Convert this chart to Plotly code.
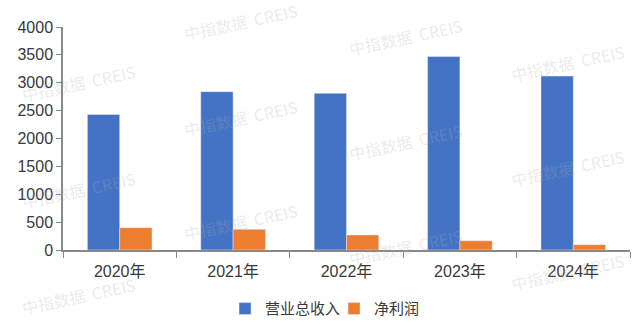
import plotly.graph_objects as go

years = ["2020年", "2021年", "2022年", "2023年", "2024年"]
revenue = [2430, 2840, 2810, 3470, 3120]
net_profit = [400, 370, 270, 165, 95]
y_ticks = [0, 500, 1000, 1500, 2000, 2500, 3000, 3500, 4000]

FONT = "Liberation Sans, Arial, Noto Sans CJK SC"

fig = go.Figure()
fig.add_bar(x=years, y=revenue, name="营业总收入", marker_color="#4472C4")
fig.add_bar(x=years, y=net_profit, name="净利润", marker_color="#ED7D31")

# plot area in pixels
L, R, T, B = 63, 630, 27, 250
W, H = 640, 324

def px(x, y):
    return (x - L) / (R - L), (B - y) / (B - T)

wm_pos = [(240, 22), (405, 37), (567, 63),
          (78, 83), (240, 118), (405, 142), (567, 168),
          (78, 190), (240, 222), (405, 247), (567, 272),
          (78, 296)]
anns = []
for (x, y) in wm_pos:
    ax, ay = px(x, y)
    anns.append(dict(x=ax, y=ay, xref="paper", yref="paper", text="中指数据  CREIS",
                     xanchor="center", yanchor="middle",
                     showarrow=False, textangle=-12,
                     font=dict(family="Noto Sans CJK SC", size=16, color="rgba(175,175,175,0.26)")))

fig.update_layout(
    width=W, height=H,
    margin=dict(l=L, r=W - R, t=T, b=H - B, autoexpand=False),
    paper_bgcolor="white", plot_bgcolor="white",
    barmode="group", bargap=0.43, bargroupgap=0,
    font=dict(family=FONT, size=16, color="#3a3a3a"),
    showlegend=True,
    legend=dict(orientation="h", x=0.478, xanchor="center", y=-0.264, yanchor="middle",
                font=dict(size=15, color="#3a3a3a"), itemwidth=30, traceorder="normal",
                entrywidth=64, entrywidthmode="pixels"),
    annotations=anns,
)
fig.update_xaxes(showline=True, linecolor="#898989", linewidth=1.5, ticks="outside",
                 tickson="boundaries", ticklen=6, tickcolor="#898989", showgrid=False,
                 tickfont=dict(size=16), ticklabelstandoff=6, automargin=False)
fig.update_yaxes(range=[0, 4000], tickvals=y_ticks, showline=True, linecolor="#898989",
                 linewidth=1.5, ticks="outside", ticklen=5, tickcolor="#898989",
                 showgrid=False, zeroline=False, tickfont=dict(size=16), automargin=False)

fig.write_html("out.html")
